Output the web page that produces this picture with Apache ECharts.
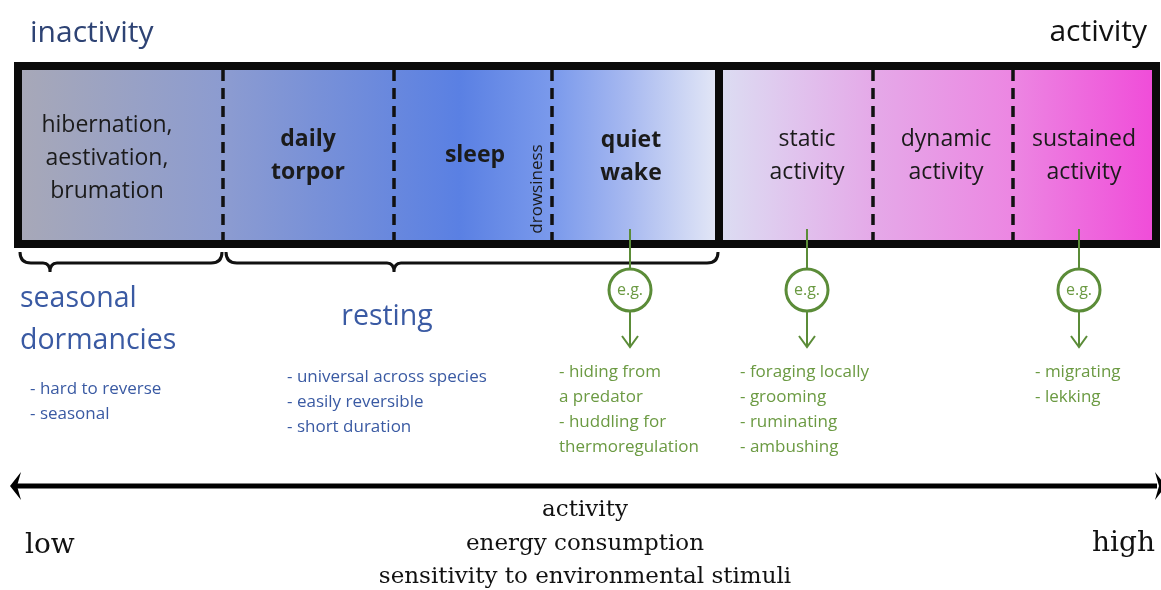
<!DOCTYPE html>
<html><head><meta charset="utf-8">
<script src="https://cdn.jsdelivr.net/npm/echarts@6/dist/echarts.min.js"></script>
<style>html,body{margin:0;padding:0;background:#fff}#c{width:1161px;height:590px}</style>
</head><body><div id="c"></div>
<script>
// ---------------- data ----------------
const poleLabels = ['inactivity', 'activity'];
const stageNames = ['hibernation,\naestivation,\nbrumation', 'daily\ntorpor', 'sleep', 'quiet\nwake', 'static\nactivity', 'dynamic\nactivity', 'sustained\nactivity'];
const stageStart = [18, 223, 394, 552, 719, 873, 1013];
const stageEnd = [223, 394, 552, 719, 873, 1013, 1156];
const stageLabelAt = [107, 308, 475, 631, 807, 946, 1084];
const stageLabelLevel = [158, 156, 155, 157, 156, 156, 156];
const stageBold = [false, true, true, true, false, false, false];
const dashedBounds = [223, 394, 552, 873, 1013];
const mainSplit = [719];
const transitionLabel = 'drowsiness';
const transitionAt = 537;
const bandTop = 66, bandBottom = 244;
const groupNames = ['seasonal\ndormancies', 'resting'];
const groupStart = [20, 226];
const groupEnd = [222, 718];
const groupTip = [50, 394];
const groupNotes = ['- hard to reverse\n- seasonal', '- universal across species\n- easily reversible\n- short duration'];
const exampleAt = [630, 807, 1079];
const exampleNoteLeft = [559, 740, 1035];
const exampleNotes = ['- hiding from\na predator\n- huddling for\nthermoregulation', '- foraging locally\n- grooming\n- ruminating\n- ambushing', '- migrating\n- lekking'];
const axisTitles = ['activity', 'energy consumption', 'sensitivity to environmental stimuli'];
const axisEnds = ['low', 'high'];

// ---------------- styles ----------------
const SANS = "'Open Sans', sans-serif";
const SERIF = "'DejaVu Serif', serif";
const BLUE = '#3a5aa3';
const NAVY = '#2e4374';
const GREEN = '#5b8c38';
const GREEN_TXT = '#6b9a42';

const chart = echarts.init(document.getElementById('c'), null, { renderer: 'canvas' });

function leftGrad(api) {
  const a = api.coord([22, 0])[0], b = api.coord([716, 0])[0];
  return new echarts.graphic.LinearGradient(a, 0, b, 0, [
    { offset: 0, color: '#a7a8b8' },
    { offset: 0.3, color: '#8b9bd1' },
    { offset: 0.63, color: '#5a80e3' },
    { offset: 0.77, color: '#7c9bec' },
    { offset: 0.87, color: '#a6b8f0' },
    { offset: 1, color: '#e2e6f6' }
  ], true);
}
function rightGrad(api) {
  const a = api.coord([723, 0])[0], b = api.coord([1150, 0])[0];
  return new echarts.graphic.LinearGradient(a, 0, b, 0, [
    { offset: 0, color: '#dcdcf2' },
    { offset: 0.36, color: '#e5a8e8' },
    { offset: 0.68, color: '#ec86e2' },
    { offset: 1, color: '#f04ed9' }
  ], true);
}

const series = [];

// stages (band segments + labels)
series.push({
  type: 'custom', name: 'stages', silent: true,
  data: stageStart.map((s, i) => [s, stageEnd[i], i]),
  renderItem: (params, api) => {
    const i = api.value(2);
    const a = api.coord([api.value(0), bandTop]);
    const b = api.coord([api.value(1), bandBottom]);
    const c = api.coord([stageLabelAt[i], stageLabelLevel[i]]);
    return {
      type: 'group', children: [
        { type: 'rect', shape: { x: a[0], y: a[1], width: b[0] - a[0], height: b[1] - a[1] },
          style: { fill: i < 4 ? leftGrad(api) : rightGrad(api) } },
        { type: 'text', x: c[0], y: c[1], z2: 10,
          style: { text: stageNames[i], align: 'center', verticalAlign: 'middle', fill: '#1b1b1b',
            fontSize: 23, fontWeight: stageBold[i] ? 'bold' : 'normal', fontFamily: SANS, lineHeight: 33 } }
      ]
    };
  }
});

// dashed dividers
series.push({
  type: 'custom', name: 'dividers', silent: true,
  data: dashedBounds.map(v => [v]),
  renderItem: (params, api) => {
    const a = api.coord([api.value(0), bandTop + 4]);
    const b = api.coord([api.value(0), bandBottom - 4]);
    return { type: 'line', shape: { x1: a[0], y1: a[1], x2: b[0], y2: b[1] },
      style: { stroke: '#111', lineWidth: 3.5, lineDash: [11, 7] } };
  }
});

// frame + main split
series.push({
  type: 'custom', name: 'frame', silent: true,
  data: mainSplit.map(v => [v]),
  renderItem: (params, api) => {
    const a = api.coord([stageStart[0], bandTop]);
    const b = api.coord([stageEnd[stageEnd.length - 1], bandBottom]);
    const s1 = api.coord([api.value(0), bandTop]);
    const s2 = api.coord([api.value(0), bandBottom]);
    const t = api.coord([transitionAt, 189]);
    return {
      type: 'group', children: [
        { type: 'rect', shape: { x: a[0], y: a[1], width: b[0] - a[0], height: b[1] - a[1] },
          style: { fill: 'none', stroke: '#0a0a0a', lineWidth: 8 } },
        { type: 'line', shape: { x1: s1[0], y1: s1[1], x2: s2[0], y2: s2[1] },
          style: { stroke: '#0a0a0a', lineWidth: 8 } },
        { type: 'text', x: t[0], y: t[1], rotation: Math.PI / 2,
          style: { text: transitionLabel, align: 'center', verticalAlign: 'middle', fill: '#1b1b1b',
            fontSize: 17, fontFamily: SANS } }
      ]
    };
  }
});

// pole labels
series.push({
  type: 'custom', name: 'poles', silent: true,
  data: poleLabels.map((t, i) => [i]),
  renderItem: (params, api) => {
    const i = api.value(0);
    const p = i === 0 ? api.coord([30, 33]) : api.coord([1147, 32]);
    return { type: 'text', x: p[0], y: p[1],
      style: { text: poleLabels[i], align: i === 0 ? 'left' : 'right', verticalAlign: 'middle',
        fill: i === 0 ? NAVY : '#111', fontSize: 30, fontFamily: SANS } };
  }
});

// braces + group labels + notes
series.push({
  type: 'custom', name: 'groups', silent: true,
  data: groupNames.map((g, i) => [groupStart[i], groupEnd[i], groupTip[i], i]),
  renderItem: (params, api) => {
    const i = api.value(3);
    const x0 = api.coord([api.value(0), 0])[0];
    const x1 = api.coord([api.value(1), 0])[0];
    const xt = api.coord([api.value(2), 0])[0];
    const yT = api.coord([0, 252])[1], yM = api.coord([0, 263])[1], yP = api.coord([0, 272])[1];
    const r = 11, q = 7;
    const d = `M${x0},${yT} Q${x0},${yM} ${x0 + r},${yM} L${xt - q},${yM} Q${xt},${yM} ${xt},${yP} ` +
      `Q${xt},${yM} ${xt + q},${yM} L${x1 - r},${yM} Q${x1},${yM} ${x1},${yT}`;
    const namePos = i === 0 ? api.coord([20, 320]) : api.coord([387, 317]);
    const notePos = i === 0 ? api.coord([30, 402]) : api.coord([287, 402]);
    return {
      type: 'group', children: [
        { type: 'path', shape: { pathData: d }, style: { fill: 'none', stroke: '#111', lineWidth: 3 } },
        { type: 'text', x: namePos[0], y: namePos[1],
          style: { text: groupNames[i], align: i === 0 ? 'left' : 'center', verticalAlign: 'middle',
            fill: BLUE, fontSize: 28.5, fontFamily: SANS, lineHeight: 42 } },
        { type: 'text', x: notePos[0], y: notePos[1],
          style: { text: groupNotes[i], align: 'left', verticalAlign: 'middle',
            fill: BLUE, fontSize: 17, fontFamily: SANS, lineHeight: 25 } }
      ]
    };
  }
});

// examples
series.push({
  type: 'custom', name: 'examples', silent: true,
  data: exampleAt.map((x, i) => [x, i]),
  renderItem: (params, api) => {
    const i = api.value(1);
    const x = api.coord([api.value(0), 0])[0];
    const Y = v => api.coord([0, v])[1];
    const cy = Y(290), R = 21;
    const nl = api.coord([exampleNoteLeft[i], 0])[0];
    const nTop = Y(372) - 12.5;
    return {
      type: 'group', children: [
        { type: 'line', shape: { x1: x, y1: Y(229), x2: x, y2: cy - R }, style: { stroke: GREEN, lineWidth: 2 } },
        { type: 'circle', shape: { cx: x, cy: cy, r: R }, style: { fill: '#fff', stroke: GREEN, lineWidth: 3 } },
        { type: 'text', x: x, y: cy, style: { text: 'e.g.', align: 'center', verticalAlign: 'middle',
          fill: GREEN_TXT, fontSize: 16, fontFamily: SANS } },
        { type: 'line', shape: { x1: x, y1: cy + R, x2: x, y2: Y(347) }, style: { stroke: GREEN, lineWidth: 2 } },
        { type: 'polyline', shape: { points: [[x - 8, Y(336)], [x, Y(347)], [x + 8, Y(336)]] },
          style: { fill: 'none', stroke: GREEN, lineWidth: 2 } },
        { type: 'text', x: nl, y: nTop, style: { text: exampleNotes[i], align: 'left', verticalAlign: 'top',
          fill: GREEN_TXT, fontSize: 17, fontFamily: SANS, lineHeight: 25 } }
      ]
    };
  }
});

// bottom axis arrow + titles
series.push({
  type: 'custom', name: 'axis', silent: true,
  data: [[0]],
  renderItem: (params, api) => {
    const P = (x, y) => api.coord([x, y]);
    const a = P(15, 486), b = P(1157, 486);
    const lt = P(10, 486), lu = P(21, 472), lm = P(17, 486), ld = P(21, 500);
    const rt = P(1166, 486), ru = P(1155, 472), rm = P(1159, 486), rd = P(1155, 500);
    const tc = P(585, 544);
    const lo = P(25, 546), hi = P(1155, 544);
    return {
      type: 'group', children: [
        { type: 'line', shape: { x1: a[0], y1: a[1], x2: b[0], y2: b[1] }, style: { stroke: '#000', lineWidth: 5 } },
        { type: 'polygon', shape: { points: [lt, lu, lm, ld] }, style: { fill: '#000' } },
        { type: 'polygon', shape: { points: [rt, ru, rm, rd] }, style: { fill: '#000' } },
        { type: 'text', x: tc[0], y: tc[1], style: { text: axisTitles.join('\n'), align: 'center', verticalAlign: 'middle',
          fill: '#111', fontSize: 23, fontFamily: SERIF, lineHeight: 33.5 } },
        { type: 'text', x: lo[0], y: lo[1], style: { text: axisEnds[0], align: 'left', verticalAlign: 'middle',
          fill: '#111', fontSize: 28, fontFamily: SERIF } },
        { type: 'text', x: hi[0], y: hi[1], style: { text: axisEnds[1], align: 'right', verticalAlign: 'middle',
          fill: '#111', fontSize: 28, fontFamily: SERIF } }
      ]
    };
  }
});

chart.setOption({
  animation: false,
  backgroundColor: '#fff',
  grid: { left: 0, right: 0, top: 0, bottom: 0 },
  xAxis: { type: 'value', min: 0, max: 1161, show: false },
  yAxis: { type: 'value', min: 0, max: 590, inverse: true, show: false },
  series: series
});
</script>
</body></html>
